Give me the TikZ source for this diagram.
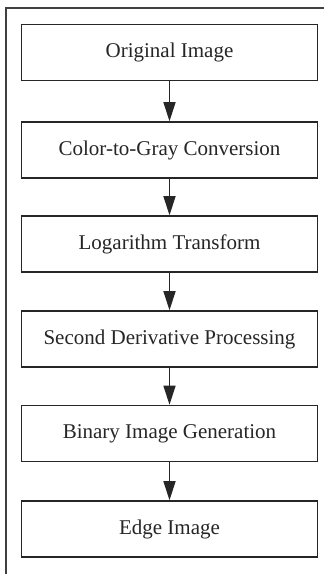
\documentclass[tikz,border=0pt]{standalone}
\usepackage{fontspec}
\setmainfont{Liberation Serif}
\usetikzlibrary{arrows.meta}
\begin{document}
\begin{tikzpicture}[x=1pt,y=-1pt,
  stepbox/.style={draw=black!85, line width=1.6pt, minimum width=296pt, minimum height=56pt,
    inner sep=0pt, font=\fontsize{21}{25}\selectfont, text=black!85},
  flow/.style={draw=black!85, line width=1.6pt, -{Triangle[length=19pt,width=12pt]}}]
\useasboundingbox (0,0) rectangle (324,574);
\fill[white] (0,0) rectangle (324,574);
\draw[black!75, line width=1.6pt] (6,580) -- (6,8) -- (330,8);
\node[stepbox] (a) at (169.5,52.5) {Original Image};
\node[stepbox] (b) at (169.5,150) {Color-to-Gray Conversion};
\node[stepbox] (c) at (169.5,244) {Logarithm Transform};
\node[stepbox] (d) at (169.5,339) {Second Derivative Processing};
\node[stepbox] (e) at (169.5,433.5) {Binary Image Generation};
\node[stepbox] (f) at (169.5,529) {Edge Image};
\draw[flow] (a) -- (b);
\draw[flow] (b) -- (c);
\draw[flow] (c) -- (d);
\draw[flow] (d) -- (e);
\draw[flow] (e) -- (f);
\end{tikzpicture}
\end{document}
